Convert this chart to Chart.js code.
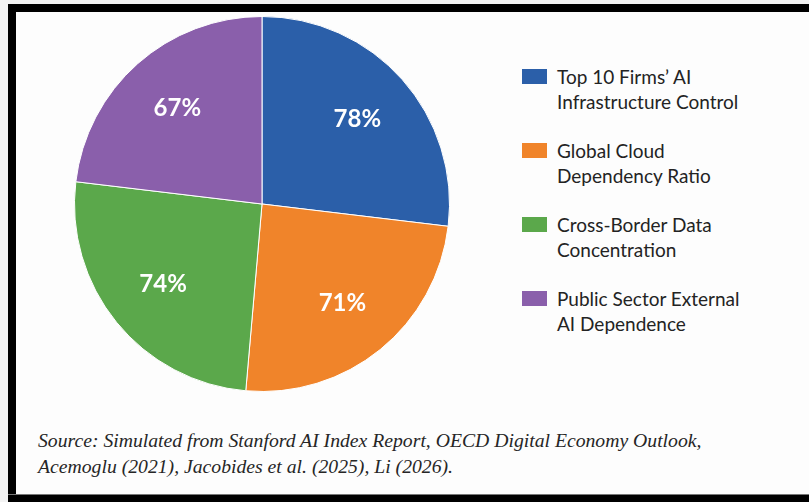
<!DOCTYPE html>
<html>
<head>
<meta charset="utf-8">
<script src="https://cdn.jsdelivr.net/npm/chart.js@4/dist/chart.umd.min.js"></script>
<style>
  html, body { margin: 0; padding: 0; }
  body { width: 809px; height: 502px; position: relative; overflow: hidden; background: #f3f3f3; }
  .sheet { position: absolute; left: 16px; top: 12px; width: 793px; height: 482px; background: #fdfdfd; }
  .bar { position: absolute; background: #000; }
  #pieBox { position: absolute; left: 74px; top: 16px; width: 376px; height: 376px; }
  #legend { position: absolute; left: 522px; top: 64px; font-family: Lato, sans-serif; font-size: 19px; color: #232323; }
  .item { position: relative; height: 50px; margin-bottom: 24px; padding-left: 35px; line-height: 25px; white-space: nowrap; }
  .swatch { position: absolute; left: 0; top: 5px; width: 25px; height: 15px; }
  #source { position: absolute; left: 38px; top: 427px; font-family: "Liberation Serif", "Times New Roman", serif; font-style: italic; font-size: 19.7px; line-height: 26px; color: #262626; white-space: nowrap; }
</style>
</head>
<body>
<div class="sheet"></div>
<div class="bar" style="left:8px; top:4px; width:801px; height:8px;"></div>
<div class="bar" style="left:8px; top:4px; width:8px; height:498px;"></div>
<div class="bar" style="left:8px; top:494px; width:801px; height:1px; background:#777;"></div>
<div class="bar" style="left:8px; top:495px; width:801px; height:7px;"></div>

<div id="pieBox"><canvas id="pieChart"></canvas></div>
<div id="legend"></div>
<div id="source">Source: Simulated from Stanford AI Index Report, OECD Digital Economy Outlook,<br>Acemoglu (2021), Jacobides et al. (2025), Li (2026).</div>

<script>
// categories (two lines each, as shown in the legend)
const categories = [
  ['Top 10 Firms’ AI', 'Infrastructure Control'],
  ['Global Cloud', 'Dependency Ratio'],
  ['Cross-Border Data', 'Concentration'],
  ['Public Sector External', 'AI Dependence']
];
// share in percent
const values = [78, 71, 74, 67];
const sliceColors = ['#2b5fa9', '#f0842a', '#5ba84b', '#8a5fab'];

// white percentage text inside each slice
const sliceLabels = {
  id: 'sliceLabels',
  afterDatasetsDraw(chart) {
    const ctx = chart.ctx;
    const meta = chart.getDatasetMeta(0);
    ctx.save();
    ctx.fillStyle = '#ffffff';
    ctx.font = 'bold 24px Lato, sans-serif';
    ctx.textAlign = 'center';
    ctx.textBaseline = 'middle';
    meta.data.forEach((arc, i) => {
      const mid = (arc.startAngle + arc.endAngle) / 2;
      const r = arc.outerRadius * 0.68;
      const x = arc.x + Math.cos(mid) * r;
      const y = arc.y + Math.sin(mid) * r;
      ctx.fillText(values[i] + '%', x, y);
    });
    ctx.restore();
  }
};

const chart = new Chart(document.getElementById('pieChart'), {
  type: 'pie',
  data: {
    labels: categories.map(c => c.join(' ')),
    datasets: [{
      data: values,
      backgroundColor: sliceColors,
      borderColor: '#ffffff',
      borderWidth: 1
    }]
  },
  options: {
    responsive: true,
    maintainAspectRatio: false,
    animation: false,
    layout: { padding: 0 },
    plugins: {
      legend: { display: false },
      tooltip: { enabled: false }
    }
  },
  plugins: [sliceLabels]
});

// legend built from the chart's own data
const legend = document.getElementById('legend');
categories.forEach((lines, i) => {
  const item = document.createElement('div');
  item.className = 'item';
  const sw = document.createElement('span');
  sw.className = 'swatch';
  sw.style.background = chart.data.datasets[0].backgroundColor[i];
  item.appendChild(sw);
  item.appendChild(document.createTextNode(lines[0]));
  item.appendChild(document.createElement('br'));
  item.appendChild(document.createTextNode(lines[1]));
  legend.appendChild(item);
});
</script>
</body>
</html>
